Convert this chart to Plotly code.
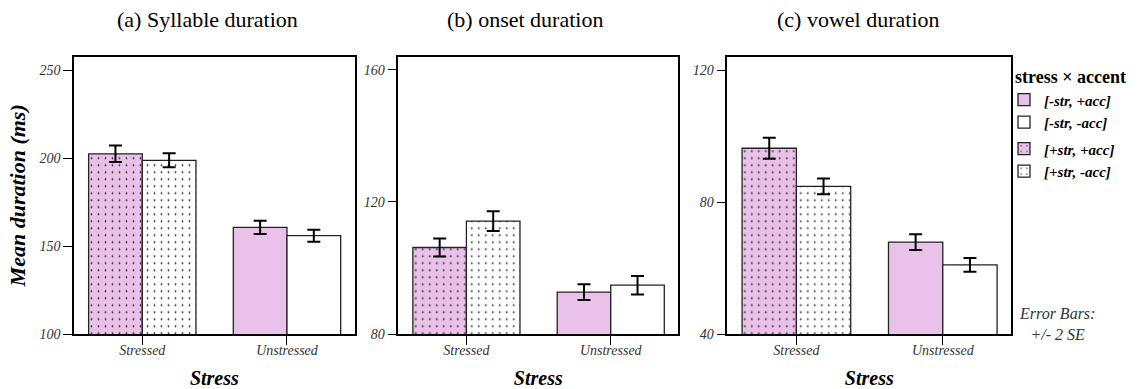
import plotly.graph_objects as go

# ---- data ----
stress_cats = ["Stressed", "Unstressed"]
panel_titles = ["(a) Syllable duration", "(b) onset duration", "(c) vowel duration"]
series_names = ["[-str, +acc]", "[-str, -acc]", "[+str, +acc]", "[+str, -acc]"]

# means per panel: [+str,+acc], [+str,-acc], [-str,+acc], [-str,-acc]
syll_mean = [202.4, 198.7, 160.6, 155.9]
syll_err = [4.7, 4.0, 3.8, 3.4]
onset_mean = [106.2, 114.2, 92.7, 94.8]
onset_err = [2.7, 3.0, 2.4, 2.8]
vowel_mean = [96.4, 84.8, 67.9, 61.0]
vowel_err = [3.2, 2.4, 2.4, 2.1]

y_ranges = [[100, 257.6], [80, 164], [40, 124.2]]
y_ticks = [[100, 150, 200, 250], [80, 120, 160], [40, 80, 120]]

means = [syll_mean, onset_mean, vowel_mean]
errs = [syll_err, onset_err, vowel_err]

W, H = 1138, 389
FONT = "Liberation Serif"
PINK = "#E9C1E9"

x_px = [(74, 354.7), (398.3, 678.3), (727.3, 1011.3)]
y_dom = [1 - 334 / H, 1 - 56.7 / H]

fig = go.Figure()

for p in range(3):
    xa = "x" if p == 0 else f"x{p+1}"
    ya = "y" if p == 0 else f"y{p+1}"
    m, e = means[p], errs[p]
    specs = [
        ("[+str, +acc]", "Stressed", m[0], e[0], PINK, ".", "plus", "grpP"),
        ("[+str, -acc]", "Stressed", m[1], e[1], "white", ".", "minus", "grpP"),
        ("[-str, +acc]", "Unstressed", m[2], e[2], PINK, "", "plus", "grpM"),
        ("[-str, -acc]", "Unstressed", m[3], e[3], "white", "", "minus", "grpM"),
    ]
    for name, cat, val, er, col, shp, og, lg in specs:
        fig.add_trace(go.Bar(
            x=[cat], y=[val], name="<b><i>" + name + "</i></b>",
            offsetgroup=og, legendgroup=lg,
            legendrank=series_names.index(name) + 1,
            showlegend=(p == 2),
            marker=dict(color=col, line=dict(color="#222", width=1.3),
                        pattern=dict(shape=shp, fgcolor="#222", bgcolor=col, size=7, solidity=0.05)),
            error_y=dict(type="data", array=[er], visible=True, color="black", thickness=2, width=6.5),
            xaxis=xa, yaxis=ya,
        ))

    x0, x1 = x_px[p]
    axis_common = dict(showline=True, linecolor="black", linewidth=1.5, mirror=True,
                       ticks="outside", ticklen=9, tickcolor="black", tickwidth=1.3,
                       showgrid=False, zeroline=False)
    fig.update_layout(**{
        ("xaxis" if p == 0 else f"xaxis{p+1}"): dict(
            domain=[x0 / W, x1 / W], anchor=ya, type="category",
            categoryorder="array", categoryarray=stress_cats,
            range=[-0.472, 1.468], ticklabelstandoff=-7,
            tickfont=dict(family=FONT, size=14, color="#333", style="italic"),
            title=dict(text="<b><i>Stress</i></b>", font=dict(family=FONT, size=20, color="black"), standoff=14),
            **axis_common),
        ("yaxis" if p == 0 else f"yaxis{p+1}"): dict(
            domain=y_dom, anchor=xa, range=y_ranges[p], tickvals=y_ticks[p],
            tickfont=dict(family=FONT, size=14, color="#333", style="italic"),
            **axis_common),
    })
    cx = [207.5, 525, 858][p]
    fig.add_annotation(text=panel_titles[p], x=cx / W, y=1 - 20 / H, xref="paper", yref="paper",
                       showarrow=False, font=dict(family=FONT, size=22, color="black"),
                       xanchor="center", yanchor="middle")

fig.update_layout(yaxis_title=dict(text="<b><i>Mean duration (ms)</i></b>",
                                   font=dict(family=FONT, size=22, color="black"), standoff=8))

fig.add_annotation(text="<i>Error Bars:<br>+/- 2 SE</i>", x=1057 / W, y=1 - 324 / H, xref="paper", yref="paper",
                   showarrow=False, font=dict(family=FONT, size=16, color="#333"),
                   xanchor="center", yanchor="middle", align="center")

fig.update_layout(
    width=W, height=H, margin=dict(l=0, r=0, t=0, b=0),
    paper_bgcolor="white", plot_bgcolor="white",
    barmode="group", bargap=0.258, bargroupgap=0,
    template="none",
    legend=dict(x=1004 / W, y=1 - 60 / H, xanchor="left", yanchor="top",
                title=dict(text="&nbsp;&nbsp;<b>stress × accent</b>", font=dict(family=FONT, size=18, color="black")),
                font=dict(family=FONT, size=15, color="black"),
                tracegroupgap=4, itemwidth=30, bgcolor="rgba(0,0,0,0)",
                traceorder="grouped"),
    showlegend=True,
)

fig.write_html("out.html", config={"displayModeBar": False},
               post_script="document.body.style.margin='0px';document.body.style.overflow='hidden';")
